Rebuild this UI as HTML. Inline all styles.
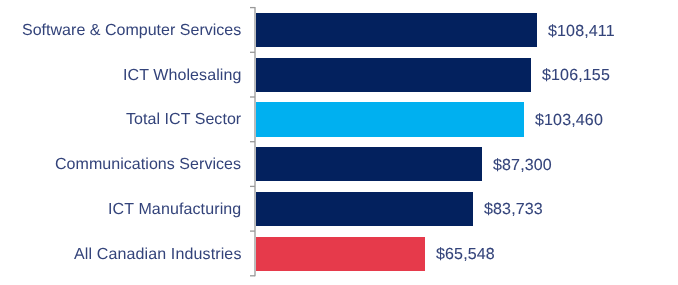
<!DOCTYPE html>
<html><head><meta charset="utf-8"><style>
html,body{margin:0;padding:0;background:#fff;width:678px;height:285px;overflow:hidden}
body{position:relative;font-family:"Liberation Sans",sans-serif;color:#33437a}
.bar{position:absolute;left:256px;height:34.4px}
.lab{position:absolute;right:436.5px;height:20px;line-height:20px;font-size:16px;white-space:nowrap;text-rendering:geometricPrecision;transform:scaleY(1.0);transform-origin:50% 15.4px;will-change:transform;-webkit-text-stroke:0px #33437a}
.val{position:absolute;height:20px;line-height:20px;font-size:16px;letter-spacing:0.15px;white-space:nowrap;text-rendering:geometricPrecision;transform:scaleY(1.0);transform-origin:50% 15.4px;will-change:transform;-webkit-text-stroke:0.1px #33437a}
</style></head><body>
<svg width="678" height="285" style="position:absolute;left:0;top:0"><line x1="255.0" y1="6.9" x2="255.0" y2="276.30" stroke="#999999" stroke-width="1.3"/><line x1="250" y1="7.60" x2="255.0" y2="7.60" stroke="#999999" stroke-width="1.3"/><line x1="250" y1="52.30" x2="255.0" y2="52.30" stroke="#999999" stroke-width="1.3"/><line x1="250" y1="97.00" x2="255.0" y2="97.00" stroke="#999999" stroke-width="1.3"/><line x1="250" y1="141.70" x2="255.0" y2="141.70" stroke="#999999" stroke-width="1.3"/><line x1="250" y1="186.40" x2="255.0" y2="186.40" stroke="#999999" stroke-width="1.3"/><line x1="250" y1="231.10" x2="255.0" y2="231.10" stroke="#999999" stroke-width="1.3"/><line x1="250" y1="275.80" x2="255.0" y2="275.80" stroke="#999999" stroke-width="1.3"/></svg>
<div class="bar" style="top:13.00px;width:280.67px;background:#03215e"></div>
<div class="lab" style="top:21.00px;letter-spacing:0.02px;margin-right:-0.02px">Software &amp; Computer Services</div>
<div class="val" style="top:21.60px;left:547.67px">$108,411</div>
<div class="bar" style="top:57.70px;width:274.80px;background:#03215e"></div>
<div class="lab" style="top:65.70px;letter-spacing:0.09px;margin-right:-0.09px">ICT Wholesaling</div>
<div class="val" style="top:66.30px;left:541.80px">$106,155</div>
<div class="bar" style="top:102.40px;width:267.80px;background:#00b0f0"></div>
<div class="lab" style="top:110.40px;letter-spacing:0.05px;margin-right:-0.05px">Total ICT Sector</div>
<div class="val" style="top:111.00px;left:534.80px">$103,460</div>
<div class="bar" style="top:147.10px;width:225.78px;background:#03215e"></div>
<div class="lab" style="top:155.10px;letter-spacing:0.05px;margin-right:-0.05px">Communications Services</div>
<div class="val" style="top:155.70px;left:492.78px">$87,300</div>
<div class="bar" style="top:191.80px;width:216.51px;background:#03215e"></div>
<div class="lab" style="top:199.80px;letter-spacing:0.12px;margin-right:-0.12px">ICT Manufacturing</div>
<div class="val" style="top:200.40px;left:483.51px">$83,733</div>
<div class="bar" style="top:236.50px;width:169.22px;background:#e63a4b"></div>
<div class="lab" style="top:244.50px;letter-spacing:0.13px;margin-right:-0.13px">All Canadian Industries</div>
<div class="val" style="top:245.10px;left:436.22px">$65,548</div>
</body></html>
